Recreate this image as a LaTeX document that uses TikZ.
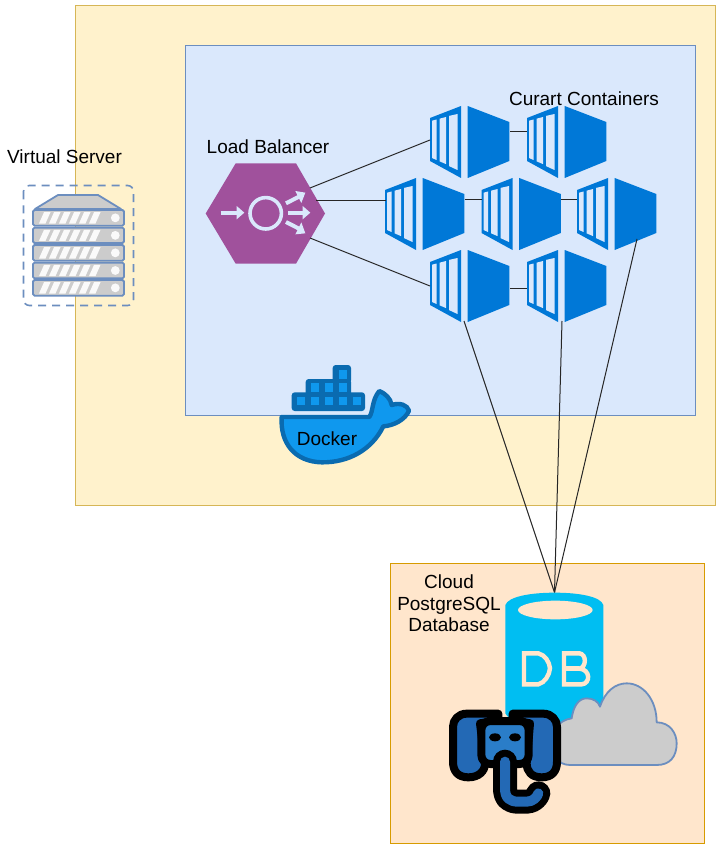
\documentclass[tikz,border=0pt]{standalone}
\usepackage{fontspec}
\setmainfont{Liberation Sans}
\definecolor{yfill}{HTML}{FFF2CC}\definecolor{ystroke}{HTML}{D6B656}
\definecolor{bfill}{HTML}{DAE8FC}\definecolor{bstroke}{HTML}{6C8EBF}
\definecolor{ofill}{HTML}{FFE6CC}\definecolor{ostroke}{HTML}{D79B00}
\definecolor{lbfill}{HTML}{A0519C}\definecolor{azure}{HTML}{0078D7}
\definecolor{dockfill}{HTML}{0F98EE}\definecolor{dockline}{HTML}{0A6BB0}
\definecolor{dbblue}{HTML}{00BEF2}\definecolor{gr}{HTML}{CCCCCC}
\definecolor{eleph}{HTML}{2369B5}\definecolor{elephl}{HTML}{2A7DC8}
\tikzset{
  panel/.style={line width=0.8pt},
  lbl/.style={font=\fontsize{19}{21.7}\selectfont,inner sep=0pt,align=center,text=black},
  conn/.style={line width=1pt,draw=black!85},
  srv/.style={draw=bstroke,fill=gr,line width=1.8pt,rounded corners=1.5pt},
  lbicon/.style={fill=bfill,draw=none},
  lbshaft/.style={draw=bfill,line width=4pt},
  dbletter/.style={draw=ofill,line width=4.4pt,line join=miter},
  elep/.style={draw=black,line width=8pt,line join=round},
}
\newcommand{\containericon}[3]{%
 \begin{scope}[shift={(#2,#3)}]
  \fill[azure] (0,12)--(31,0)--(31,72)--(0,55)--cycle;
  \fill[bfill] (2,14.7)--(6.5,13.5)--(6.5,54)--(2,52)--cycle;
  \fill[bfill] (9.5,12.7)--(16,11)--(16,58.1)--(9.5,55.3)--cycle;
  \fill[bfill] (19,9.9)--(27.5,8)--(27.5,64)--(19,60.1)--cycle;
  \fill[azure] (37.7,0)--(79.3,16)--(79.3,55)--(37.7,72)--cycle;
 \end{scope}}
\newcommand{\srvunit}[2]{%
  \draw[srv] (33,#1) rectangle (124,#2);
  \foreach \k in {0,...,5}{
    \fill[white!90!gr] ({39+10*\k},{#2-2.2}) -- ({45.5+10*\k},{#2-2.2}) -- ({50.5+10*\k},{#1+2.2}) -- ({44+10*\k},{#1+2.2}) -- cycle;}
  \fill[white!90!gr] (115.3,{(#1+#2)/2}) circle (4.4);}
\begin{document}
\begin{tikzpicture}[x=1pt,y=-1pt]
\useasboundingbox (0,0) rectangle (722,850);
\fill[white] (0,0) rectangle (722,850);
% panels
\draw[panel,fill=yfill,draw=ystroke] (75.5,5.5) rectangle (715.5,505.5);
\draw[panel,fill=bfill,draw=bstroke] (185.5,45.5) rectangle (695.5,415.5);
\draw[panel,fill=ofill,draw=ostroke] (390.5,563.5) rectangle (704.5,843.5);
% server
\draw[draw=bstroke,line width=1.6pt,dash pattern=on 8pt off 6pt,rounded corners=6pt] (23.5,185.5) rectangle (133.5,305.5);
\draw[draw=bstroke,fill=gr,line width=1.8pt,line join=round] (35,209)--(58,195)--(98,195)--(121,209)--cycle;
\srvunit{210}{225.7}
\srvunit{227.7}{243}
\srvunit{245}{260.7}
\srvunit{262.7}{278.3}
\srvunit{280}{295.7}
% load balancer
\fill[lbfill] (205.7,213.5)--(235.7,163.3)--(296,163.3)--(325,213.5)--(296,263.7)--(235.7,263.7)--cycle;
\draw[draw=bfill,line width=3.6pt] (265.7,213.3) circle (15.7);
\begin{scope}[shift={(0,140)},scale=1/3]
 \draw[lbshaft] (662,218)--(712,218);
 \fill[lbicon] (710,198)--(733,218)--(710,238)--cycle;
 \draw[lbshaft] (865,218)--(910,218);
 \fill[lbicon] (908,198)--(931,218)--(908,238)--cycle;
 \draw[lbshaft] (858,190)--(897,170);
 \fill[lbicon] (904,189)--(886,153)--(916,158)--cycle;
 \draw[lbshaft] (858,246)--(897,266);
 \fill[lbicon] (904,247)--(886,283)--(916,280)--cycle;
\end{scope}
\coordinate (lb-a) at (310,188);
\coordinate (lb-b) at (316,201);
\coordinate (lb-c) at (310,238);
% containers
\containericon{c1}{430}{106}
\containericon{c2}{527}{106}
\containericon{c3}{385}{178}
\containericon{c4}{481.5}{178}
\containericon{c5}{577}{178}
\containericon{c6}{430}{250}
\containericon{c7}{527}{250}
\coordinate (c3-in) at (385.5,201);
\coordinate (c4-in) at (481.5,200);
\coordinate (c5-in) at (577,200);
\coordinate (c3-out) at (464.5,200);
\coordinate (c4-out) at (561,200);
\coordinate (c1-in) at (430,140);
\coordinate (c6-in) at (430,286);
\coordinate (c2-in) at (527,132);
\coordinate (c7-in) at (527,288);
\coordinate (c1-out) at (510,132);
\coordinate (c6-out) at (510,288);
\coordinate (c6-b) at (464,321);
\coordinate (c7-b) at (562,321);
\coordinate (c5-b) at (637,239);
\coordinate (dbtop) at (554.5,592.5);
\draw[conn] (lb-a)--(c1-in);
\draw[conn] (lb-b)--(c3-in);
\draw[conn] (lb-c)--(c6-in);
\draw[conn] (c1-out)--(c2-in);
\draw[conn] (c3-out)--(c4-in);
\draw[conn] (c4-out)--(c5-in);
\draw[conn] (c6-out)--(c7-in);
\draw[conn] (c6-b)--(dbtop);
\draw[conn] (c7-b)--(dbtop);
\draw[conn] (c5-b)--(dbtop);
% docker
\begin{scope}[shift={(270,355)},scale=1/3]
 \draw[draw=dockline,fill=dockfill,line width=4.4pt,line join=round]
   (35,186)--(298,186) .. controls (310,170) and (305,135) .. (328,108)
   .. controls (345,115) and (362,130) .. (365,150)
   .. controls (390,142) and (412,150) .. (417,167)
   .. controls (405,195) and (370,212) .. (340,214)
   .. controls (305,285) and (235,323) .. (155,322)
   .. controls (75,320) and (30,265) .. (35,186) -- cycle;
 \fill[dockline,rounded corners=3pt] (65,112) rectangle (285,168);
 \fill[dockline,rounded corners=3pt] (107,72) rectangle (243,125);
 \fill[dockline,rounded corners=3pt] (188,30) rectangle (243,85);
 \foreach \x in {80,122,164,206,248} \fill[dockfill] (\x,125) rectangle ++(26,26);
 \foreach \x in {122,164,206} \fill[dockfill] (\x,85) rectangle ++(26,26);
 \fill[dockfill] (206,45) rectangle ++(26,26);
\end{scope}
% database
\begin{scope}[shift={(430,580)},scale=1/3]
 \fill[dbblue] (226,75) .. controls (235,50) and (300,38) .. (374,38)
   .. controls (448,38) and (513,50) .. (520,75) -- (520,400)
   .. controls (513,425) and (448,430) .. (374,430)
   .. controls (300,430) and (235,425) .. (226,400) -- cycle;
 \fill[ofill] (376,90) ellipse [x radius=112,y radius=28];
 \draw[dbletter] (282,220)--(325,220) .. controls (345,225) and (358,245) .. (360,265)
   .. controls (358,285) and (345,308) .. (325,313) -- (282,313) -- cycle;
 \draw[dbletter] (402,220)--(448,220) .. controls (470,222) and (470,262) .. (448,266)
   .. controls (482,268) and (482,311) .. (455,313) -- (402,313) -- cycle;
 \draw[dbletter] (402,266)--(448,266);
 % cloud
 \draw[draw=bstroke,fill=gr,line width=1.8pt,line join=round]
   (510,380) .. controls (525,335) and (555,310) .. (590,310)
   .. controls (640,310) and (680,360) .. (680,427)
   .. controls (720,427) and (740,460) .. (740,490)
   .. controls (740,530) and (720,555) .. (680,555)
   -- (420,555) .. controls (345,555) and (345,425) .. (425,415)
   .. controls (430,380) and (445,355) .. (470,355)
   .. controls (490,355) and (505,365) .. (510,380) -- cycle;
 % elephant
 \draw[elep,fill=eleph]
   (205,401) -- (110,401) .. controls (85,401) and (69,420) .. (69,440)
   -- (69,545) .. controls (69,575) and (85,592) .. (115,592)
   .. controls (145,592) and (165,575) .. (165,550) -- (150,430) -- (205,420) -- cycle;
 \draw[elep,fill=eleph]
   (248,401) -- (340,401) .. controls (365,401) and (381,420) .. (381,440)
   -- (381,545) .. controls (381,575) and (365,592) .. (335,592)
   .. controls (305,592) and (290,575) .. (290,550) -- (300,430) -- (248,420) -- cycle;
 \draw[elep,fill=elephl,rounded corners=9pt] (154,423) rectangle (296,552);
 \fill[black] (195,472) ellipse [x radius=18,y radius=12];
 \fill[black] (255,472) ellipse [x radius=18,y radius=12];
 \draw[draw=black,line width=24pt,line cap=round,line join=round]
   (225,545) -- (225,625) .. controls (225,655) and (240,665) .. (265,665)
   -- (290,665) .. controls (310,665) and (322,650) .. (325,640);
 \draw[draw=eleph,line width=10pt,line cap=round,line join=round]
   (225,545) -- (225,625) .. controls (225,655) and (240,665) .. (265,665)
   -- (290,665) .. controls (310,665) and (322,650) .. (325,640);
\end{scope}
% labels
\node[lbl] (tvs) at (64.5,157) {Virtual Server};
\node[lbl] (tlb) at (268,147) {Load Balancer};
\node[lbl] (tcc) at (584,99) {Curart Containers};
\node[lbl] (tdk) at (327,439) {Docker};
\node[lbl] (tdb) at (449,603.5) {Cloud\\PostgreSQL\\Database};
\end{tikzpicture}
\end{document}
